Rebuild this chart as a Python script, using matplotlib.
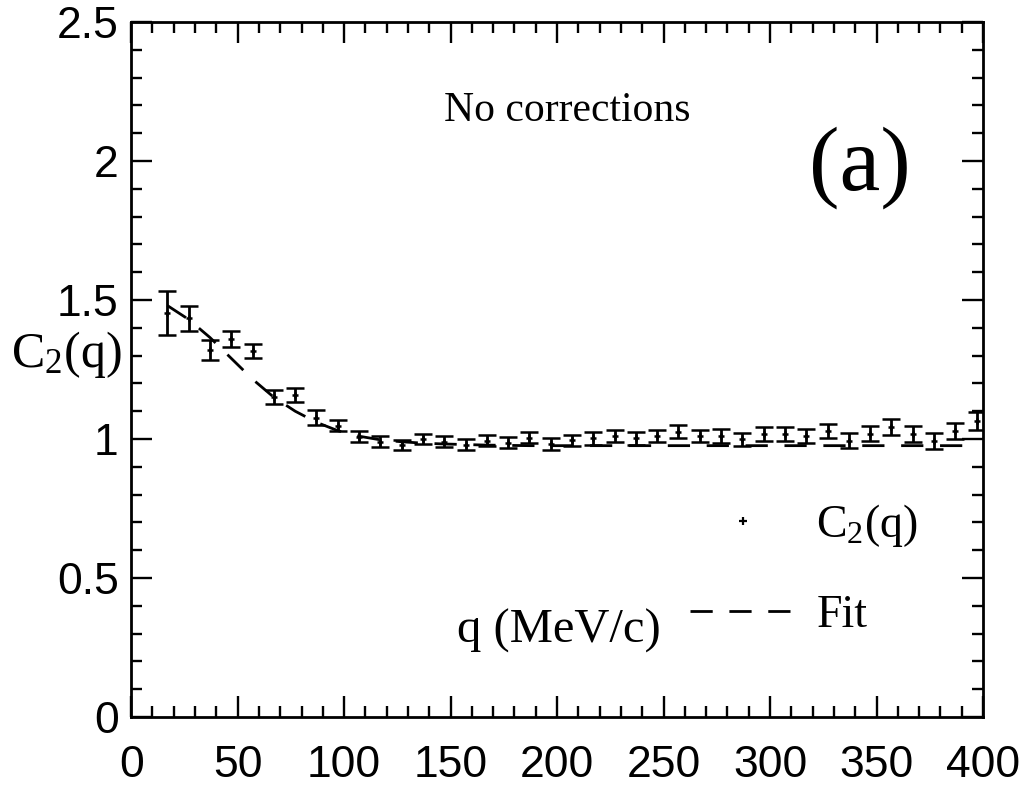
import matplotlib
matplotlib.use("Agg")
import matplotlib.pyplot as plt
from matplotlib.lines import Line2D
from matplotlib.ticker import MultipleLocator

plt.rcParams["mathtext.fontset"] = "custom"
plt.rcParams["mathtext.rm"] = "Liberation Serif"
plt.rcParams["mathtext.it"] = "Liberation Serif:italic"

# C2(q) data
q = [17, 27, 37, 47, 57, 67, 77, 87, 97, 107, 117, 127, 137, 147, 157, 167,
     177, 187, 197, 207, 217, 227, 237, 247, 257, 267, 277, 287, 297, 307,
     317, 327, 337, 347, 357, 367, 377, 387, 397]
c2 = [1.453, 1.434, 1.320, 1.360, 1.316, 1.152, 1.158, 1.077, 1.047, 1.008,
      0.990, 0.978, 0.999, 0.990, 0.980, 0.993, 0.987, 1.005, 0.983, 0.995,
      1.002, 1.011, 1.002, 1.011, 1.026, 1.011, 1.011, 0.999, 1.017, 1.017,
      1.011, 1.029, 0.993, 1.019, 1.043, 1.017, 0.993, 1.029, 1.065]
c2_err = [0.080, 0.046, 0.036, 0.030, 0.025, 0.025, 0.024, 0.027, 0.020, 0.019,
          0.019, 0.017, 0.018, 0.019, 0.020, 0.020, 0.020, 0.021, 0.021, 0.021,
          0.022, 0.022, 0.022, 0.023, 0.023, 0.023, 0.024, 0.024, 0.025, 0.025,
          0.026, 0.026, 0.027, 0.028, 0.028, 0.029, 0.030, 0.030, 0.032]
fit = [1.480, 1.430, 1.365, 1.290, 1.215, 1.150, 1.100, 1.060, 1.030, 1.010,
       0.997, 0.990, 0.985, 0.982, 0.980, 0.978, 0.977, 0.976, 0.976, 0.976,
       0.976, 0.976, 0.976, 0.976, 0.976, 0.976, 0.976, 0.976, 0.976, 0.976,
       0.976, 0.976, 0.976, 0.976, 0.976, 0.976, 0.976, 0.976, 0.976]

serif = "Liberation Serif"
sans = "Liberation Sans"

fig = plt.figure(figsize=(10.25, 7.87), dpi=100)
ax = fig.add_axes([0.128, 0.089, 0.831, 0.883])

ax.plot(q, fit, color="black", lw=2.0, dashes=(8, 6))
ax.errorbar(q, c2, yerr=c2_err, fmt="+", color="black", ms=5, mew=1.8,
            elinewidth=2.0, capsize=6.5, capthick=2.0)

ax.set_xlim(0, 400)
ax.set_ylim(0, 2.5)
ax.xaxis.set_major_locator(MultipleLocator(50))
ax.xaxis.set_minor_locator(MultipleLocator(10))
ax.yaxis.set_major_locator(MultipleLocator(0.5))
ax.yaxis.set_minor_locator(MultipleLocator(0.1))
ax.set_yticks([0, 0.5, 1, 1.5, 2, 2.5])
ax.set_yticklabels(["0", "0.5", "1", "1.5", "2", "2.5"])
ax.tick_params(which="both", direction="in", top=True, right=True, width=1.7)
ax.tick_params(which="major", length=15)
ax.tick_params(which="minor", length=8)
ax.tick_params(axis="x", which="major", pad=20, labelsize=32)
ax.tick_params(axis="y", which="major", pad=9, labelsize=32)
for lab in ax.get_xticklabels() + ax.get_yticklabels():
    lab.set_family(sans)
for sp in ax.spines.values():
    sp.set_linewidth(2.0)

ax.text(201, 0.31, "q (MeV/c)", fontsize=35, family=serif,
        ha="center", va="center")
ax.text(0.512, 0.873, "No corrections", transform=ax.transAxes,
        fontsize=30, family=serif, ha="center", va="center")
ax.text(0.856, 0.79, "(a)", transform=ax.transAxes,
        fontsize=66, family=serif, ha="center", va="center")
fig.text(0.065, 0.55, r"$\mathrm{C_2(q)}$", fontsize=36,
         ha="center", va="center")

handles = [Line2D([], [], ls="none", marker="+", ms=6, mew=1.6, color="black"),
           Line2D([], [], color="black", lw=2.0, dashes=(8, 6))]
leg = ax.legend(handles, [r"$\mathrm{C_2(q)}$", "Fit"], loc="center",
                bbox_to_anchor=(0.79, 0.212), frameon=False,
                prop={"family": serif, "size": 33}, handlelength=2.3,
                handletextpad=0.45, labelspacing=0.98)

fig.savefig("out.png", dpi=100)
